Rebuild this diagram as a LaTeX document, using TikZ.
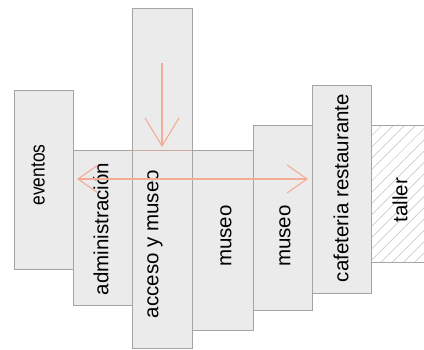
\documentclass[tikz,border=0pt]{standalone}
\usepackage{fontspec}
\setmainfont{Liberation Sans}
\usetikzlibrary{arrows.meta,patterns.meta}
\definecolor{roomfill}{HTML}{EBEBEB}
\definecolor{roomline}{HTML}{A4A4A4}
\definecolor{flow}{HTML}{F5AC96}

\begin{document}
\begin{tikzpicture}[x=1pt,y=-1pt,font=\fontsize{20.5}{24}\selectfont,
  room/.style={draw=roomline,fill=roomfill,line width=0.8pt},
  label/.style={rotate=90,inner sep=0pt},
  flowline/.style={draw=flow,line width=1.1pt}]
  \useasboundingbox (0,0) rectangle (424,349);
  % rooms, left to right
  \draw[room] (14,90) rectangle (73,269);
  \draw[room] (73,150) rectangle (132,305);
  \draw[room] (132,8) rectangle (192,348);
  \draw[room] (192,150) rectangle (253,330);
  \draw[room] (253,125) rectangle (312,310);
  \draw[room] (312,85) rectangle (371,293);
  \draw[room,fill=roomfill!60,pattern={Lines[angle=45,distance=8pt,line width=0.5pt]},
    pattern color=roomline!70] (371,125) rectangle (430,262);
  \draw[room,fill=none] (371,125) rectangle (430,262);
  \draw[draw=flow!50!roomline,line width=0.6pt] (132,150) -- (192,150);
  % labels
  \node[label] (eventos) at (38,175) {\scalebox{0.85}[1]{eventos}};
  \node[label] (admin) at (101,229) {administración};
  \node[label] (acceso) at (155,244) {acceso y museo};
  \node[label] (museoa) at (226,236) {museo};
  \node[label] (museob) at (285,236) {museo};
  \node[label] (cafe) at (341,188) {cafeteria restaurante};
  \node[label] (taller) at (400,200) {taller};
  % circulation
  \coordinate (entry) at (162,63);
  \coordinate (hall) at (162,147);
  \coordinate (west) at (77,179);
  \coordinate (east) at (308,179);
  \draw[flowline,-{Straight Barb[length=28pt,width=34pt]}] (entry) -- (hall);
  \draw[flowline,{Straight Barb[length=20pt,width=28pt]}-{Straight Barb[length=20pt,width=28pt]}] (west) -- (east);
\end{tikzpicture}
\end{document}
